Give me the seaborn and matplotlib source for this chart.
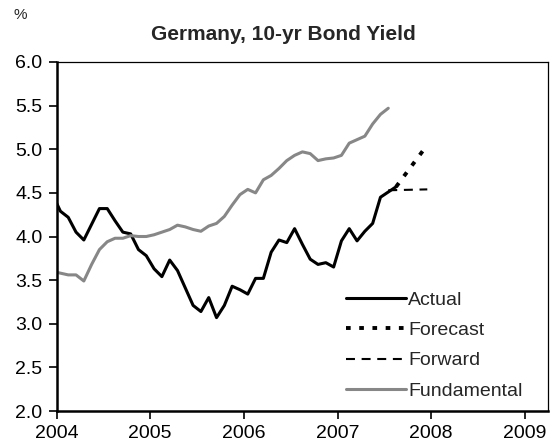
import numpy as np
import pandas as pd
import matplotlib
matplotlib.use("Agg")
import matplotlib.pyplot as plt
import seaborn as sns

# ---- data (monthly, mid-month positions) ----
actual_months = pd.period_range("2003-12", "2007-08", freq="M")
actual_values = [4.48, 4.29, 4.22, 4.05, 3.96, 4.14, 4.32, 4.32, 4.18, 4.05, 4.03, 3.85, 3.78,
                 3.63, 3.54, 3.73, 3.61, 3.41, 3.21, 3.14, 3.30, 3.07, 3.21, 3.43, 3.39,
                 3.34, 3.52, 3.52, 3.82, 3.96, 3.93, 4.09, 3.91, 3.74, 3.68, 3.70, 3.65,
                 3.95, 4.09, 3.95, 4.06, 4.15, 4.45, 4.51, 4.57]
fund_months = pd.period_range("2003-12", "2007-07", freq="M")
fund_values = [3.60, 3.58, 3.56, 3.56, 3.49, 3.68, 3.85, 3.94, 3.98, 3.98, 4.01, 4.00, 4.00,
               4.02, 4.05, 4.08, 4.13, 4.11, 4.08, 4.06, 4.12, 4.15, 4.23, 4.36, 4.48,
               4.54, 4.50, 4.65, 4.70, 4.78, 4.87, 4.93, 4.97, 4.95, 4.87, 4.89, 4.90,
               4.93, 5.07, 5.11, 5.15, 5.29, 5.40, 5.47]
forecast_months = pd.PeriodIndex(["2007-08", "2007-12"], freq="M")
forecast_values = [4.57, 5.05]
forward_months = pd.PeriodIndex(["2007-07", "2007-12"], freq="M")
forward_values = [4.53, 4.54]

year_ticks = [2004, 2005, 2006, 2007, 2008, 2009]
y_ticks = [2.0, 2.5, 3.0, 3.5, 4.0, 4.5, 5.0, 5.5, 6.0]


def to_year(periods):
    return periods.year + (periods.month - 0.5) / 12.0


df_act = pd.DataFrame({"t": to_year(actual_months), "v": actual_values})
df_fund = pd.DataFrame({"t": to_year(fund_months), "v": fund_values})
df_fc = pd.DataFrame({"t": to_year(forecast_months), "v": forecast_values})
df_fw = pd.DataFrame({"t": to_year(forward_months), "v": forward_values})

sns.set_style("white")
plt.rcParams["font.family"] = ["Liberation Sans", "DejaVu Sans"]

fig = plt.figure(figsize=(5.56, 4.45), dpi=100)
ax = fig.add_axes([56.5 / 556, 1 - 411 / 445, (548.3 - 56.5) / 556, (411 - 62) / 445])

sns.lineplot(data=df_act, x="t", y="v", ax=ax, color="black", lw=2.2, label="Actual")
sns.lineplot(data=df_fc, x="t", y="v", ax=ax, color="black", lw=2.8,
             linestyle=(0, (1.2, 2.2)), label="Forecast")
sns.lineplot(data=df_fw, x="t", y="v", ax=ax, color="black", lw=1.5,
             linestyle=(0, (4.3, 3.2)), label="Forward")
sns.lineplot(data=df_fund, x="t", y="v", ax=ax, color="#878787", lw=2.2, label="Fundamental")

ax.set_xlim(2004, 2009.25)
ax.set_ylim(2.0, 6.0)
ax.set_xticks(year_ticks)
ax.set_xticklabels([str(y) for y in year_ticks])
ax.set_yticks(y_ticks)
ax.set_yticklabels([f"{v:.1f}" for v in y_ticks])
ax.set_xlabel("")
ax.set_ylabel("")
ax.tick_params(axis="both", which="major", direction="out", length=5.5, width=1.2,
               color="black", labelsize=14, labelcolor="black", pad=4.5,
               bottom=True, left=True)

for side in ["left", "bottom"]:
    ax.spines[side].set_linewidth(1.8)
    ax.spines[side].set_color("black")
for side in ["top", "right"]:
    ax.spines[side].set_linewidth(0.9)
    ax.spines[side].set_color("black")
    ax.spines[side].set_visible(True)

leg = ax.legend(loc="upper left", bbox_to_anchor=(0.588, 0.343), frameon=False,
                fontsize=14, handlelength=3.1, handletextpad=0.1, labelspacing=0.65,
                borderpad=0, borderaxespad=0)

fig.text(283 / 556, 1 - 34 / 445, "Germany, 10-yr Bond Yield", ha="center", va="center",
         fontsize=15, fontweight="bold")
fig.text(20 / 556, 1 - 15 / 445, "%", ha="center", va="center", fontsize=11)

fig.savefig("out.png", dpi=100)
